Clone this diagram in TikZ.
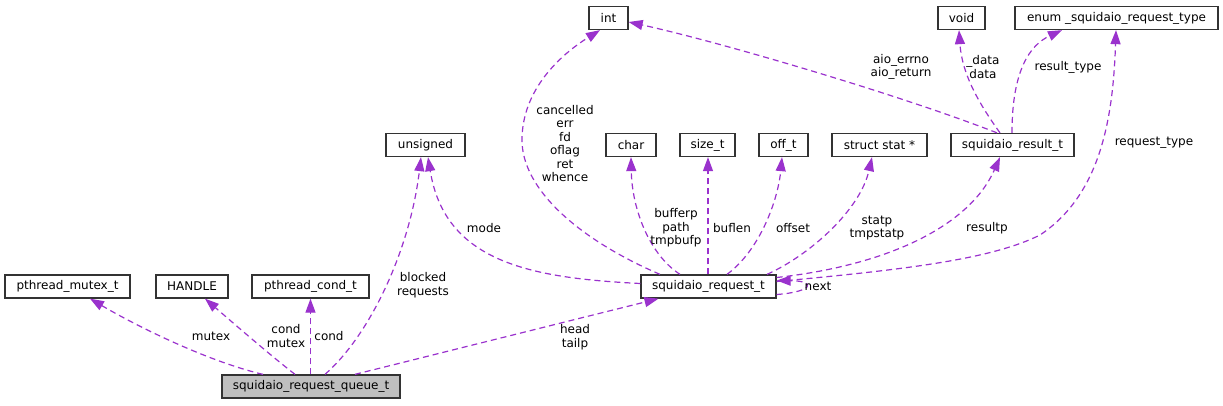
\documentclass[tikz,border=0pt]{standalone}
\usepackage{fontspec}
\setmainfont{DejaVu Sans}
\usetikzlibrary{arrows.meta}
\definecolor{edgec}{HTML}{9A32CD}
\definecolor{qfill}{HTML}{BFBFBF}
\definecolor{boxc}{HTML}{333333}
\tikzset{
  cls/.style={draw=boxc, line width=1.3pt, minimum height=23pt, inner sep=0pt, font=\fontsize{12}{13.4}\selectfont},
  rel/.style={color=edgec, line width=1.2pt, dash pattern=on 6pt off 4pt, -{Triangle[length=14pt,width=10pt]}},
  lbl/.style={align=center, inner sep=0pt, font=\fontsize{12}{13.4}\selectfont}
}
\begin{document}
\begin{tikzpicture}[x=1pt,y=-1pt]
\useasboundingbox (0,0) rectangle (1223,405);
% nodes
\node[cls, minimum width=125pt] (mut) at (67.5,286.5) {pthread\_mutex\_t};
\node[cls, minimum width=72pt] (hdl) at (192,286.5) {HANDLE};
\node[cls, minimum width=117pt] (cnd) at (310.5,286.5) {pthread\_cond\_t};
\node[cls, minimum width=178pt, fill=qfill] (q) at (311,386.5) {squidaio\_request\_queue\_t};
\node[cls, minimum width=79pt] (uns) at (425.5,145) {unsigned};
\node[cls, minimum width=39pt] (int) at (608.5,18) {int};
\node[cls, minimum width=50pt] (chr) at (631,145) {char};
\node[cls, minimum width=55pt] (sz) at (707.5,145) {size\_t};
\node[cls, minimum width=49pt] (off) at (783.5,145) {off\_t};
\node[cls, minimum width=95pt] (st) at (879.5,145) {struct stat *};
\node[cls, minimum width=123pt] (res) at (1012.5,145) {squidaio\_result\_t};
\node[cls, minimum width=47pt] (void) at (961.5,18) {void};
\node[cls, minimum width=203pt] (enm) at (1116.5,18) {enum \_squidaio\_request\_type};
\node[cls, minimum width=135pt] (req) at (708.5,286.5) {squidaio\_request\_t};
% edges from queue
\draw[rel] ([xshift=-48pt]q.north) .. controls (210,362) and (140,328) .. ([xshift=22.5pt]mut.south);
\draw[rel] ([xshift=-16pt]q.north) .. controls (270,355) and (232,322) .. ([xshift=13pt]hdl.south);
\draw[rel] (cnd.south |- q.north) -- (cnd.south);
\draw[rel] ([xshift=14pt]q.north) .. controls (370,335) and (410,250) .. ([xshift=-4.5pt]uns.south);
\draw[rel] ([xshift=44pt]q.north) -- ([xshift=-50pt]req.south);
% edges from request
\draw[rel] ([yshift=3pt]req.west) .. controls (530,278) and (445,262) .. ([xshift=2.5pt]uns.south);
\draw[rel] ([xshift=-48.5pt]req.north) .. controls (580,240) and (522,190) .. (522,140) .. controls (522,90) and (560,55) .. ([xshift=-8.5pt]int.south);
\draw[rel] ([xshift=-28.5pt]req.north) .. controls (650,255) and (632,210) .. (chr.south);
\draw[rel] ([xshift=-0.5pt]req.north) -- ([xshift=0.5pt]sz.south);
\draw[rel] ([xshift=18.5pt]req.north) .. controls (760,250) and (778,200) .. ([xshift=-1.5pt]off.south);
\draw[rel] ([xshift=58.5pt]req.north) .. controls (810,255) and (860,210) .. ([xshift=-7.5pt]st.south);
\draw[rel] ([yshift=9pt]req.east) .. controls (890,265) and (970,225) .. ([xshift=-12.5pt]res.south);
\draw[rel] ([yshift=5pt]req.east) .. controls (900,270) and (990,260) .. (1040,235) .. controls (1100,195) and (1113,120) .. ([xshift=-0.5pt]enm.south);
\draw[rel] ([yshift=-8pt]req.east) .. controls (812,292) and (818,281) .. ([yshift=6pt]req.east);
% edges from result
\draw[rel] ([xshift=-15.5pt]res.north) .. controls (900,95) and (720,42) .. ([yshift=-4pt]int.east);
\draw[rel] ([xshift=-12.5pt]res.north) .. controls (980,105) and (962,75) .. ([xshift=-2.5pt]void.south);
\draw[rel] ([xshift=-0.5pt]res.north) .. controls (1012,70) and (1030,45) .. ([xshift=-54.5pt]enm.south);
% labels
\node[lbl] (l1) at (211,336) {mutex};
\node[lbl] (l2) at (286,336) {cond\\mutex};
\node[lbl] (l3) at (329,336) {cond};
\node[lbl] (l4) at (423,285) {blocked\\requests};
\node[lbl] (l5) at (575,337) {head\\tailp};
\node[lbl] (l6) at (484,228) {mode};
\node[lbl] (l7) at (565,143.5) {cancelled\\err\\fd\\oflag\\ret\\whence};
\node[lbl] (l8) at (676,228) {bufferp\\path\\tmpbufp};
\node[lbl] (l9) at (732,228) {buflen};
\node[lbl] (l10) at (793,228) {offset};
\node[lbl] (l11) at (877,228) {statp\\tmpstatp};
\node[lbl] (l12) at (987,228) {resultp};
\node[lbl] (l13) at (1154,143) {request\_type};
\node[lbl] (l14) at (818,286) {next};
\node[lbl] (l15) at (901,67) {aio\_errno\\aio\_return};
\node[lbl] (l16) at (983,67) {\_data\\data};
\node[lbl] (l17) at (1068,67) {result\_type};
\end{tikzpicture}
\end{document}
